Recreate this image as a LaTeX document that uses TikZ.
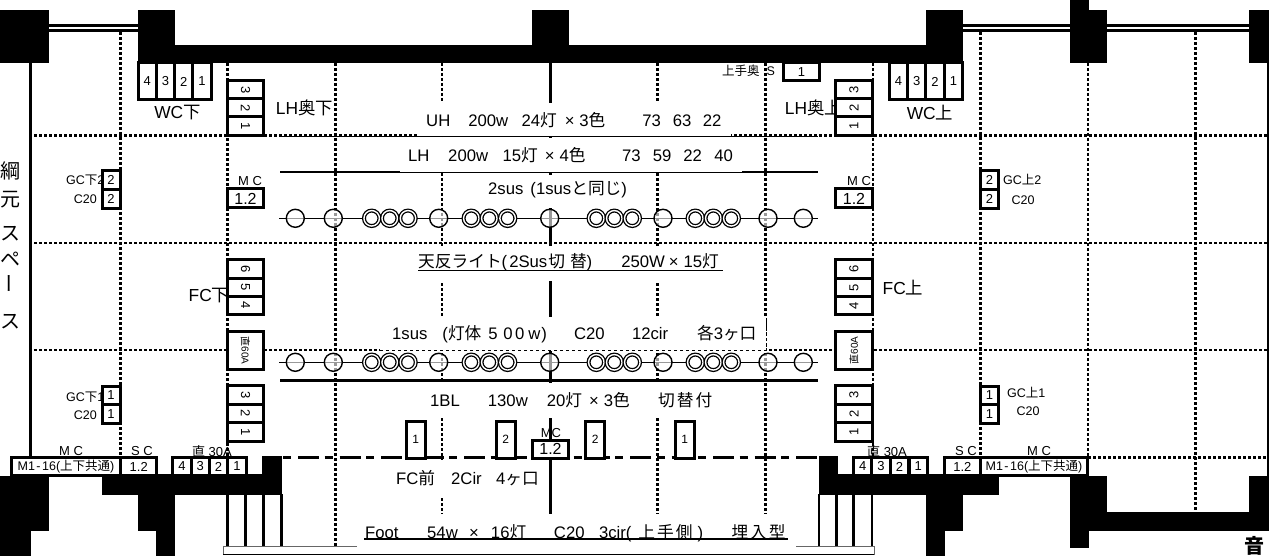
\documentclass[tikz,border=0pt]{standalone}
\usepackage{fontspec}
\setmainfont{Liberation Sans}
\newfontfamily\cjk{Noto Sans CJK JP}
\newcommand{\jp}[1]{{\cjk #1}}
\newcommand{\fsz}[1]{\fontsize{#1}{#1}\selectfont}
\begin{document}
\begin{tikzpicture}[x=1pt,y=-1pt]
	\tikzstyle{grid}=[line width=2.8pt, dash pattern=on 3pt off 2pt]
	\tikzstyle{rail}=[line width=2.8pt]
	\tikzstyle{cell}=[draw, fill=white, line width=3pt, inner sep=0pt, font=\fsz{13}]
	\tikzstyle{hcell}=[cell, minimum width=18.3pt, minimum height=37pt]
	\tikzstyle{bcell}=[cell, minimum width=18.3pt, minimum height=18.5pt]
	\tikzstyle{vcell}=[cell, minimum width=18.3pt, minimum height=36.5pt]
	\tikzstyle{row}=[anchor=west, inner sep=0pt, font=\fsz{16.7}]
	\tikzstyle{big}=[inner sep=0pt, font=\fsz{17.4}]
	\tikzstyle{small}=[inner sep=0pt, font=\fsz{12.5}]
	\tikzstyle{label}=[inner sep=0pt, font=\fsz{13}]
	\tikzstyle{bulb}=[circle, draw, line width=1.4pt, fill=white, fill opacity=.6, minimum size=18pt, inner sep=0pt]
	\tikzstyle{tribulb}=[circle, draw, fill=white, line width=1.3pt, double, double distance=1.4pt, minimum size=15.5pt, inner sep=0pt]
	\path[use as bounding box, clip] (0,0) rectangle (1269,556);

	% walls
	\fill (0,10) rectangle (49,63.5);
	\fill (138,10) rectangle (175,63.5);
	\fill (138,45) rectangle (963,63.5);
	\fill (532,10) rectangle (569,45);
	\fill (926,10) rectangle (963,63.5);
	\fill (1070,10) rectangle (1107,63.5);
	\fill (1070,0) rectangle (1089,10);
	\fill (1249,10) rectangle (1269,63.5);
	\fill (0,476) rectangle (49,531);
	\fill (0,531) rectangle (31,556);
	\fill (102,474) rectangle (282,494.5);
	\fill (138,494) rectangle (175,531);
	\fill (156,531) rectangle (175,556);
	\fill (262,456) rectangle (282,475);
	\fill (819,456) rectangle (838,475);
	\fill (819,474) rectangle (999,494.5);
	\fill (926,494) rectangle (963,531);
	\fill (926,531) rectangle (945,556);
	\fill (1070,476) rectangle (1107,512);
	\fill (1070,512) rectangle (1089,548);
	\fill (1089,512) rectangle (1269,531);
	\fill (1249,476) rectangle (1269,512);

	% double lines between the columns
	\foreach \a/\b in {49/138,963/1070,1107/1249} {
		\draw[line width=2.7pt] (\a,25.3) -- (\b,25.3);
		\draw[line width=2.7pt] (\a,30.2) -- (\b,30.2);
	}
	\draw[line width=2.7pt] (30.5,63) -- (30.5,457);
	\draw[line width=2pt] (1268,63) -- (1268,476);

	% dotted grid
	\foreach \y in {135.5,243,350} \draw[grid] (34,\y) -- (1269,\y);
	\draw[grid] (1088,457.7) -- (1269,457.7);
	\foreach \x in {120.5,980.5} \draw[grid] (\x,32) -- (\x,457);
	\foreach \x in {227.5,873,1088} \draw[grid] (\x,63) -- (\x,457);
	\draw[grid] (1195.5,32) -- (1195.5,511);
	\draw[grid] (335.5,63) -- (335.5,546);
	\foreach \x in {442,657.3,765.3} \draw[grid] (\x,63) -- (\x,514);
	\draw[rail] (550.5,63) -- (550.5,514);

	% long lines on stage
	\draw[line width=1pt] (280,136.6) -- (818,136.6);
	\draw[line width=2pt] (280,172) -- (400,172);
	\draw[line width=2pt] (742,172) -- (818,172);
	\draw[line width=3pt] (280,380) -- (818,380);
	\draw[line width=2.8pt, dash pattern=on 8pt off 7pt on 21pt off 5.5pt] (283,457.7) -- (819,457.7);
	\draw[line width=1.5pt] (279,218.3) -- (818,218.3);
	\draw[line width=1.5pt] (279,362.3) -- (818,362.3);

	% bulbs
	\foreach \y/\r in {218.3/a,362.3/b} {
		\foreach \x [count=\i] in {295.3,333.3,438.7,549.7,663,768,803.3}
			\node[bulb] (\r s\i) at (\x,\y) {};
		\foreach \x [count=\i] in {371.7,389.7,408,471.3,489.3,507.6,596.3,614.3,632.3,695.3,713.3,731.3}
			\node[tribulb] (\r t\i) at (\x,\y) {};
	}

	% white bands behind the texts
	\fill[white] (417,103) rectangle (731,136);
	\fill[white] (400,138) rectangle (742,171.8);
	\fill[white] (475,175) rectangle (640,208);
	\fill[white] (418,246) rectangle (723,281);
	\fill[white] (380,316.5) rectangle (766,350.7);
	\fill[white] (420,383) rectangle (725,418);
	\fill[white] (390,459.5) rectangle (540,497);
	\fill[white] (357,516) rectangle (796,546);
	\draw[line width=.8pt] (400,172.6) -- (742,172.6);
	\draw[line width=.7pt, dashed] (380,350.8) -- (766,350.8) -- (766,317);
	\draw[line width=1.7pt] (418,270.6) -- (723,270.6);
	\draw[line width=1.8pt] (364,539.3) -- (788,539.3);

	% stage front
	\draw[line width=1pt, draw=black!60] (796,546) -- (874,546) -- (874,554.7);
	\draw[line width=1pt, draw=black!60] (357,546) -- (223,546) -- (223,554.7);
	\draw[line width=1pt] (223,554.7) -- (874,554.7);
	\foreach \x in {227.5,245.5,263.5,281.5,819,836.5,853.5,872} \draw[rail] (\x,494) -- (\x,546);

	% main rows
	\node[row] (uh) at (426,120) {UH\hspace{18pt}200w\hspace{13.3pt}24\jp{灯}\hspace{8pt}×\hspace{4.7pt}3\jp{色}\hspace{37pt}73\hspace{12pt}63\hspace{11.4pt}22};
	\node[row] (lh) at (408,155) {LH\hspace{18.7pt}200w\hspace{14.4pt}15\jp{灯}\hspace{7pt}×\hspace{5pt}4\jp{色}\hspace{36.6pt}73\hspace{12pt}59\hspace{12pt}22\hspace{12.4pt}40};
	\node[row] (sustwo) at (488,190) {2sus\hspace{7pt}(1sus\jp{と同じ})};
	\node[row] (tenhan) at (418,262) {\jp{天反ライト}(\hspace{2pt}2Sus\hspace{1pt}\jp{切\hspace{5pt}替})\hspace{29pt}250W\hspace{4pt}×\hspace{5pt}15\jp{灯}};
	\node[row] (susone) at (392,334) {1sus\hspace{15pt}(\jp{灯体}\hspace{7pt}5\hspace{5.7pt}0\hspace{2.3pt}0\hspace{4.1pt}w\hspace{1pt})\hspace{27pt}C20\hspace{27.4pt}12cir\hspace{28.8pt}\jp{各}3\jp{ヶ口}};
	\node[row] (bl) at (430,400) {1BL\hspace{28pt}130w\hspace{19pt}20\jp{灯}\hspace{7pt}×\hspace{5pt}3\jp{色}\hspace{28.3pt}\jp{切\hspace{2pt}替\hspace{2pt}付}};
	\node[row] (fcmae) at (396,478) {FC\jp{前}\hspace{16pt}2Cir\hspace{14.4pt}4\jp{ヶ口}};
	\node[row] (foot) at (365,533) {Foot\hspace{28.6pt}54w\hspace{11.4pt}×\hspace{12pt}16\jp{灯}\hspace{27.7pt}C20\hspace{14.4pt}3cir(\hspace{7pt}\jp{上\hspace{2pt}手\hspace{2pt}側}\hspace{5pt})\hspace{28.4pt}\jp{埋\hspace{2pt}入\hspace{2pt}型}};

	% side labels
	\node[big] (lhlow) at (304.5,108) {LH\jp{奥下}};
	\node[big] (lhup) at (813.5,108) {LH\jp{奥上}};
	\node[big] (wclow) at (177.5,113) {WC\jp{下}};
	\node[big] (wcup) at (930,113) {WC\jp{上}};
	\node[big] (fclow) at (209,296) {FC\jp{下}};
	\node[big] (fcup) at (903,288) {FC\jp{上}};
	\node[small,anchor=west] (oku) at (722,71) {\jp{上手奥}\hspace{7pt}S};
	\node[small,anchor=west] (gclow2) at (66,180) {GC\jp{下}2};
	\node[small,anchor=east] (clow2) at (97,199) {C20};
	\node[small,anchor=west] (gcup2) at (1003,180) {GC\jp{上}2};
	\node[small] (cup2) at (1023,200) {C20};
	\node[small,anchor=west] (gclow1) at (66,397) {GC\jp{下}1};
	\node[small,anchor=east] (clow1) at (97,415) {C20};
	\node[small,anchor=west] (gcup1) at (1007,393) {GC\jp{上}1};
	\node[small] (cup1) at (1028,411) {C20};
	\node[label] (mcl) at (250,181) {M C};
	\node[label] (mcr) at (859,181) {M C};
	\node[label] (mcmid) at (551,433) {MC};
	\node[label] (mcbl) at (71,451.5) {M C};
	\node[label] (scbl) at (142,451.5) {S C};
	\node[label] (chokl) at (212,451.5) {\jp{直} 30A};
	\node[label] (chokr) at (887,451.5) {\jp{直} 30A};
	\node[label] (scbr) at (966,451.5) {S C};
	\node[label] (mcbr) at (1039,451.5) {M C};

	% vertical text on the far left
	\foreach \y/\t [count=\i] in {171/綱,200/元,234/ス,259/ペ,322/ス}
		\node[inner sep=0pt, font=\cjk\fsz{20}] (side\i) at (10,\y) {\t};
	\node[inner sep=0pt, rotate=-90, font=\cjk\fsz{20}] (sidebar) at (6,283) {ー};

	% top boxes
	\foreach \x/\t [count=\i] in {147.2/4,165.5/3,183.8/2,202/1}
		\node[hcell] (wcl\i) at (\x,81.5) {\t};
	\foreach \x/\t [count=\i] in {898.5/4,916.8/3,935.1/2,953.6/1}
		\node[hcell] (wcr\i) at (\x,81.5) {\t};
	\node[cell, minimum width=36.5pt, minimum height=18pt] (okus) at (801.5,72) {1};

	% channel stacks at the side
	\foreach \x/\r/\s in {245.5/-90/l,854/90/r} {
		\foreach \y/\t [count=\i] in {90/3,108/2,126/1}
			\node[vcell, rotate=\r] (lh\s\i) at (\x,\y) {\t};
		\foreach \y/\t [count=\i] in {269/6,287.5/5,305.5/4}
			\node[vcell, rotate=\r] (fc\s\i) at (\x,\y) {\t};
		\foreach \y/\t [count=\i] in {395/3,413.5/2,432/1}
			\node[vcell, rotate=\r] (bl\s\i) at (\x,\y) {\t};
		\node[cell, rotate=\r, minimum width=37.5pt, minimum height=36.5pt, font=\fsz{10}] (dim\s) at (\x,350.5) {\jp{直}60A};
		\node[cell, minimum width=36.5pt, minimum height=19pt, font=\fsz{16}] (mc\s) at (\x,198.5) {1.2};
	}

	% gc boxes
	\foreach \x/\s in {111,989.5} {
		\node[bcell, minimum width=18pt] (gca\s) at (\x,180) {2};
		\node[bcell, minimum width=18pt] (gcb\s) at (\x,199) {2};
		\node[bcell, minimum width=18pt] (gcc\s) at (\x,395.5) {1};
		\node[bcell, minimum width=18pt] (gcd\s) at (\x,414) {1};
	}

	% bottom row
	\node[bcell, minimum width=109pt, font=\fsz{12.5}] (mbl) at (66,466.5) {M1\hspace{1.5pt}-\hspace{1.5pt}16(\jp{上下共通})};
	\node[bcell, minimum width=36pt] (sbl) at (138.7,466.5) {1.2};
	\foreach \x/\t [count=\i] in {182/4,200.2/3,218.5/2,237/1}
		\node[bcell] (cbl\i) at (\x,466.5) {\t};
	\foreach \x/\t [count=\i] in {862.7/4,881/3,899.5/2,918.2/1}
		\node[bcell] (cbr\i) at (\x,466.5) {\t};
	\node[bcell, minimum width=36.5pt] (sbr) at (962.3,466.5) {1.2};
	\node[bcell, minimum width=107pt, font=\fsz{12.5}] (mbr) at (1034,466.5) {M1\hspace{1.5pt}-\hspace{1.5pt}16(\jp{上下共通})};

	% front of house boxes
	\foreach \x/\t [count=\i] in {415.7/1,505.7/2,595.2/2,684.7/1}
		\node[cell, minimum width=19pt, minimum height=37pt, font=\fsz{12}] (fr\i) at (\x,439.5) {\t};
	\node[cell, minimum width=36.5pt, minimum height=18pt, font=\fsz{16}] (mcb) at (550.5,449) {1.2};

	\node[inner sep=0pt, font=\cjk\bfseries\fsz{20}] (oto) at (1254,546) {音};
\end{tikzpicture}
\end{document}
